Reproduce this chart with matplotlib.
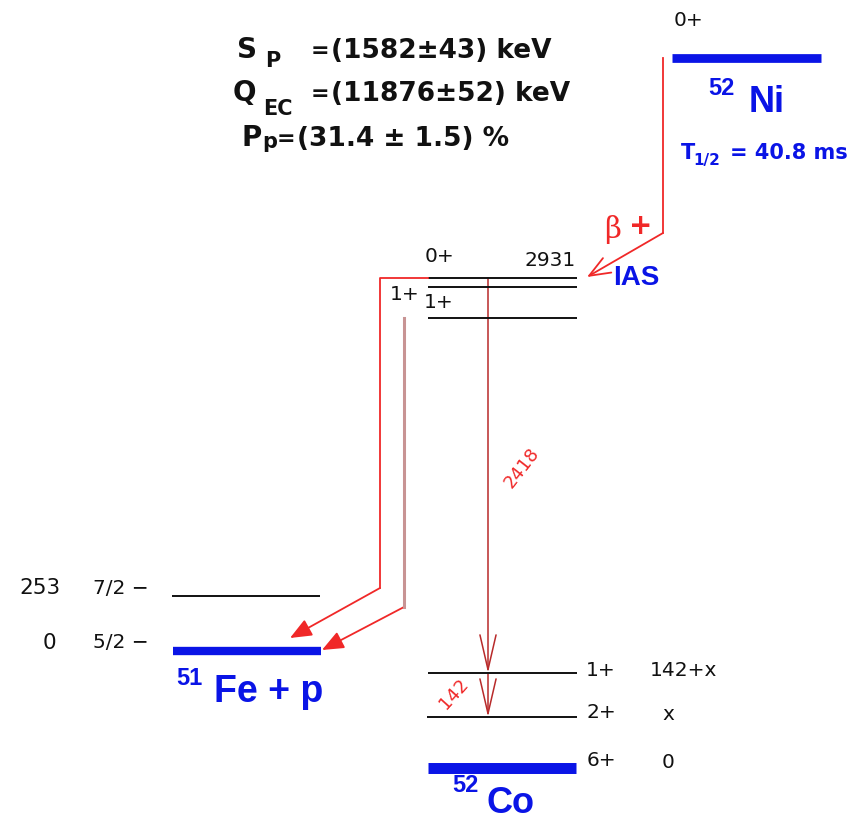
import matplotlib as mpl
mpl.use("Agg")
import matplotlib.pyplot as plt
from matplotlib.patches import FancyArrowPatch

mpl.rcParams.update({"font.family": ["DejaVu Sans"]})

BLUE, RED, DRED, PINK, BLK = "#0a14e6", "#f02828", "#b82a2a", "#c89494", "#111111"
ARIAL = ["Liberation Sans", "DejaVu Sans"]

# 51Fe + p levels
fe_energy = ["253", "0"]
fe_spin = ["7/2 \u2212", "5/2 \u2212"]
# 52Co levels around the IAS
ias_spin = ["0+", "1+", "1+"]
ias_energy = "2931"
# 52Co low-lying levels
co_spin = ["1+", "2+", "6+"]
co_energy = ["142+x", "x", "0"]
gammas = ["2418", "142"]
# header: symbol, subscript, value
hdr_sym = ["S", "Q", "P"]
hdr_sub = ["P", "EC", "p"]
hdr_val = ["(1582\u00b143) keV", "(11876\u00b152) keV", "(31.4 \u00b1 1.5) %"]
half_life = "40.8 ms"

# layout (pixel space, y pointing down)
fe_y = [596, 651]
ias_y = [278, 287, 318]
co_y = [673, 717, 768]

fig = plt.figure(figsize=(8.53, 8.23), dpi=100)
ax = fig.add_axes([0, 0, 1, 1])
ax.set_xlim(0, 853); ax.set_ylim(823, 0); ax.axis("off")

def T(x, y, s, fs=14.5, c=BLK, w="normal", ha="center", va="center", **kw):
    ax.text(x, y, s, fontsize=fs, color=c, fontweight=w, ha=ha, va=va, **kw)

def level(x0, x1, y, c=BLK, lw=1.4):
    ax.plot([x0, x1], [y, y], color=c, lw=lw, solid_capstyle="butt")

def arrow(p0, p1, c=RED, style="-|>,head_length=0.6,head_width=0.25", ms=22, lw=1.3):
    ax.add_patch(FancyArrowPatch(p0, p1, arrowstyle=style, mutation_scale=ms,
                                 color=c, lw=lw, shrinkA=0, shrinkB=0))

# header values
sym_x, sub_x, eq_x, par_x = [237, 233, 242], [265, 263, 262], [311, 311, 277], [331, 331, 297]
base_y, sub_y = [58, 101, 146], [67, 115, 148]
for i in range(3):
    T(sym_x[i], base_y[i], hdr_sym[i], 20, w="bold", ha="left", va="baseline")
    T(sub_x[i], sub_y[i], hdr_sub[i], 15, w="bold", ha="left", va="baseline")
    T(eq_x[i], base_y[i] - 1, "=", 16, w="bold", ha="left", va="baseline")
    T(par_x[i], base_y[i], hdr_val[i], 19, w="bold", ha="left", va="baseline")

# 52Ni ground state
level(672, 821, 57.5, BLUE, lw=6.3)
T(689, 20, "0+")
T(708, 95, "52", 17, BLUE, "bold", ha="left", va="baseline", family=ARIAL)
T(749, 112, "Ni", 26, BLUE, "bold", ha="left", va="baseline", family=ARIAL)
T(681, 159, "T", 15, BLUE, "bold", ha="left", va="baseline")
T(693, 165, "1/2", 11, BLUE, "bold", ha="left", va="baseline")
T(730, 159, "= " + half_life, 15, BLUE, "bold", ha="left", va="baseline")

# beta+ decay feeding the IAS
ax.plot([663, 663], [58, 233], color=RED, lw=1.3)
arrow((663, 233), (587, 277), RED, "->,head_length=0.75,head_width=0.3", 20, 1.3)
T(604, 238, "\u03b2", 21, RED, ha="left", va="baseline", family="DejaVu Serif")
T(641, 226, "+", 20, RED, "bold")
T(613, 285, "IAS", 20, BLUE, "bold", ha="left", va="baseline", family=ARIAL)

# IAS region
for y in ias_y:
    level(428, 577, y)
T(440, 256, ias_spin[0])
T(550, 261, ias_energy)
T(405, 295, ias_spin[1])
T(439, 303, ias_spin[2])

# proton emission to 51Fe
ax.plot([428, 380, 380], [278, 278, 588], color=RED, lw=1.3)
arrow((380, 588), (290, 638))
ax.plot([404, 404], [318, 607], color=PINK, lw=2.2)
arrow((404, 607), (322, 650))

# 51Fe + p levels
level(172, 320, fe_y[0])
level(173, 321, fe_y[1], BLUE, lw=6)
for y, e, s in zip(fe_y, fe_energy, fe_spin):
    T(40 if len(e) > 1 else 49, y - 8, e, 15.5)
    T(93, y - 8, s, ha="left")
T(176, 685, "51", 17, BLUE, "bold", ha="left", va="baseline", family=ARIAL)
T(214, 702, "Fe + p", 27, BLUE, "bold", ha="left", va="baseline", family=ARIAL)

# gamma cascade 2418 -> 142
gstyle = "->,head_length=1.25,head_width=0.29"
arrow((488, 278), (488, co_y[0]), DRED, gstyle, 20, 1.1)
arrow((488, co_y[0]), (488, co_y[1]), DRED, gstyle, 20, 1.1)
T(522, 468, gammas[0], 13, RED, rotation=52)
T(454, 694, gammas[1], 13, RED, rotation=48)

# 52Co low-lying levels
level(428, 577, co_y[0])
level(427, 577, co_y[1])
level(428, 576, co_y[2], BLUE, lw=7.9)
spin_y = [670, 713, 761]
for y, s, e in zip(spin_y, co_spin, co_energy):
    T(601, y, s)
    if len(e) > 1:
        T(650, y + 1, e, ha="left")
    else:
        T(668, y + 1, e)
T(452, 792, "52", 17, BLUE, "bold", ha="left", va="baseline", family=ARIAL)
T(487, 813, "Co", 26, BLUE, "bold", ha="left", va="baseline", family=ARIAL)

fig.savefig("out.png", dpi=100)
